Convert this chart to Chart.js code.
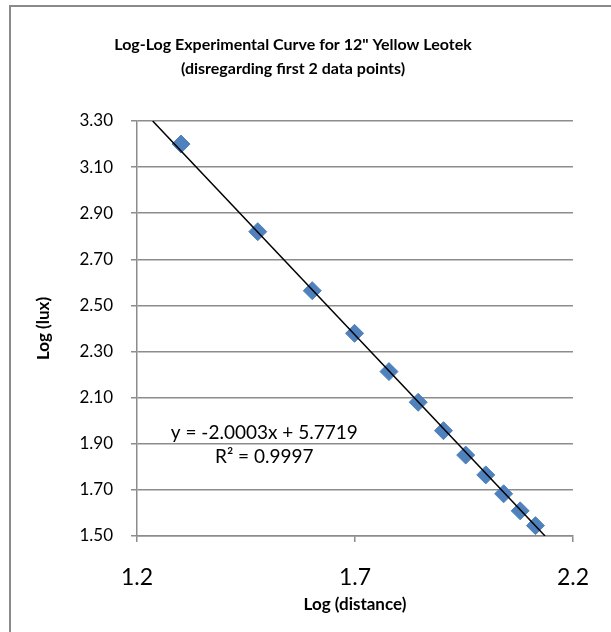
<!DOCTYPE html>
<html>
<head>
<meta charset="utf-8">
<script src="https://cdn.jsdelivr.net/npm/chart.js@4.4.1/dist/chart.umd.min.js"></script>
<style>
  html, body { margin: 0; padding: 0; background: #ffffff; }
  #wrap { width: 611px; height: 632px; position: relative; }
</style>
</head>
<body>
<div id="wrap"><canvas id="chart" width="611" height="632"></canvas></div>
<script>
// log10 of distance, measured points (first 2 points left out)
const logDistance = [1.301, 1.477, 1.602, 1.699, 1.778, 1.845, 1.903, 1.954, 2.0, 2.041, 2.079, 2.114];
const logLux = [3.200, 2.820, 2.564, 2.379, 2.213, 2.080, 1.957, 1.851, 1.765, 1.683, 1.609, 1.545];

// linear trendline ends, where it meets the plot edges
const trendX = [1.236, 2.136];
const trendY = [3.30, 1.50];

const equationLines = ["y = -2.0003x + 5.7719", "R\u00b2 = 0.9997"];
const equationAt = [1.492, 1.947, 1.843]; // x, y line 1, y line 2

const titleLines = ["Log-Log Experimental Curve for 12\" Yellow Leotek", "(disregarding first 2 data points)"];
const xTicks = [1.2, 1.7, 2.2];
const yMin = 1.5;
const yMax = 3.3;

const FONT = "Lato, 'Open Sans', sans-serif";
const GRID = "#8c8c8c";

const frame = {
  id: "frame",
  beforeDraw(chart) {
    const c = chart.ctx;
    c.save();
    c.fillStyle = "#ffffff";
    c.fillRect(0, 0, chart.width, chart.height);
    // outer chart border, its right and bottom sides fall off the picture
    c.strokeStyle = "#8a8a8a";
    c.lineWidth = 2;
    c.strokeRect(10, 6, chart.width + 10, chart.height + 10);
    c.restore();
  },
};

const equationText = {
  id: "equationText",
  afterDatasetsDraw(chart) {
    const c = chart.ctx;
    const xs = chart.scales.x;
    const ys = chart.scales.y;
    c.save();
    c.font = `19px ${FONT}`;
    c.fillStyle = "#000000";
    c.textAlign = "center";
    c.textBaseline = "middle";
    const px = xs.getPixelForValue(equationAt[0]);
    c.fillText(equationLines[0], px, ys.getPixelForValue(equationAt[1]));
    c.fillText(equationLines[1], px, ys.getPixelForValue(equationAt[2]));
    c.restore();
  },
};

new Chart(document.getElementById("chart"), {
  type: "scatter",
  data: {
    datasets: [
      {
        label: "Linear fit",
        type: "line",
        data: trendX.map((x, i) => ({ x, y: trendY[i] })),
        borderColor: "#000000",
        borderWidth: 1.5,
        pointRadius: 0,
        fill: false,
      },
      {
        label: "Log (lux)",
        data: logDistance.map((x, i) => ({ x, y: logLux[i] })),
        pointStyle: "rectRot",
        pointRadius: 9,
        pointHoverRadius: 9,
        backgroundColor: "#4f81bd",
        borderColor: "#4f81bd",
        borderWidth: 1,
      },
    ],
  },
  options: {
    responsive: false,
    animation: false,
    layout: { padding: { top: 0, left: 0, right: 25, bottom: 0 } },
    plugins: {
      legend: { display: false },
      tooltip: { enabled: false },
      title: {
        display: true,
        text: titleLines,
        color: "#000000",
        font: { family: FONT, size: 16, weight: "bold", lineHeight: 1.5 },
        padding: { top: 33, bottom: 40 },
      },
    },
    scales: {
      x: {
        type: "linear",
        min: 1.2,
        max: 2.2,
        afterFit(scale) { scale.height = 96; },
        afterBuildTicks(scale) { scale.ticks = xTicks.map((v) => ({ value: v })); },
        ticks: {
          color: "#000000",
          font: { family: FONT, size: 23 },
          padding: 22,
          maxRotation: 0,
          callback: (v) => Number(v).toFixed(1),
        },
        grid: { display: true, drawOnChartArea: false, color: GRID, lineWidth: 1.5, tickLength: 6 },
        border: { color: GRID, width: 1.5 },
        title: {
          display: true,
          text: "Log (distance)",
          color: "#000000",
          font: { family: FONT, size: 17, weight: "bold" },
          padding: { top: 0, bottom: 17 },
        },
      },
      y: {
        min: yMin,
        max: yMax,
        afterFit(scale) { scale.width = 137; },
        ticks: {
          stepSize: 0.2,
          color: "#000000",
          font: { family: FONT, size: 17 },
          padding: 18,
          callback: (v) => Number(v).toFixed(2),
        },
        grid: { color: GRID, lineWidth: 1.5, tickLength: 6 },
        border: { color: GRID, width: 1.5 },
        title: {
          display: true,
          text: "Log (lux)",
          color: "#000000",
          font: { family: FONT, size: 17, weight: "bold" },
          padding: { top: 33, bottom: 0 },
        },
      },
    },
  },
  plugins: [frame, equationText],
});
</script>
</body>
</html>
